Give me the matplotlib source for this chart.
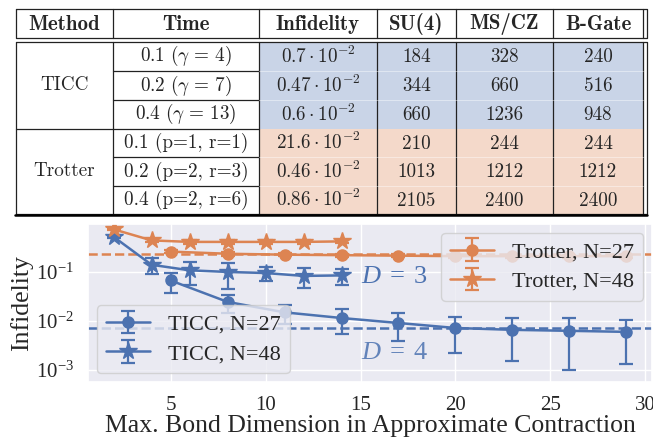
import matplotlib
matplotlib.use("Agg")
import matplotlib.pyplot as plt
import seaborn as sns

# ---- table data ----
headers = ["Method", "Time", "Infidelity", "SU(4)", "MS/CZ", "B-Gate"]
methods = ["TICC", "Trotter"]
times = [r"$0.1\ (\gamma\,=\,4)$", r"$0.2\ (\gamma\,=\,7)$", r"$0.4\ (\gamma\,=\,13)$",
         "0.1 (p=1, r=1)", "0.2 (p=2, r=3)", "0.4 (p=2, r=6)"]
infid = ["0.7", "0.47", "0.6", "21.6", "0.46", "0.86"]
su4 = [184, 344, 660, 210, 1013, 2105]
mscz = [328, 660, 1236, 244, 1212, 2400]
bgate = [240, 516, 948, 244, 1212, 2400]

# ---- plot data ----
x_ticc27 = [5, 8, 11, 14, 17, 20, 23, 26, 29]
y_ticc27 = [0.067, 0.0245, 0.015, 0.0115, 0.0091, 0.0072, 0.0066, 0.0063, 0.0060]
e_ticc27 = [0.03, 0.01, 0.0065, 0.006, 0.0052, 0.005, 0.0051, 0.0053, 0.0047]

x_ticc48 = [2, 4, 6, 8, 10, 12, 14]
y_ticc48 = [0.52, 0.14, 0.108, 0.10, 0.095, 0.083, 0.085]
e_ticc48 = [0.03, 0.05, 0.055, 0.055, 0.03, 0.035, 0.032]

x_trot27 = [5, 8, 11, 14, 17, 20, 23, 26, 29]
y_trot27 = [0.26, 0.235, 0.225, 0.22, 0.215, 0.21, 0.21, 0.21, 0.21]
e_trot27 = [0.02, 0.02, 0.015, 0.015, 0.015, 0.015, 0.015, 0.015, 0.015]

x_trot48 = [2, 4, 6, 8, 10, 12, 14]
y_trot48 = [0.74, 0.44, 0.41, 0.41, 0.41, 0.41, 0.42]
e_trot48 = [0.03, 0.03, 0.03, 0.03, 0.03, 0.03, 0.03]

d3_level = 0.0073
trot_level = 0.23

blue = "#4C72B0"
orange = "#DD8452"

sns.set_theme(style="darkgrid")
plt.rcParams["font.family"] = ["Liberation Serif", "DejaVu Serif"]
plt.rcParams["mathtext.fontset"] = "custom"
plt.rcParams["mathtext.rm"] = "Liberation Serif"
plt.rcParams["mathtext.it"] = "Liberation Serif:italic"

fig = plt.figure(figsize=(6.53, 4.43), dpi=100)
fig.patch.set_facecolor("white")

# ---- table (pixel coordinates) ----
tax = fig.add_axes([0, 0, 1, 1])
tax.set_xlim(0, 653)
tax.set_ylim(443, 0)
tax.axis("off")

cx = [16, 113, 259, 377, 456, 553, 643]
hy = [9, 37.5]
ry = [41.5, 71, 100, 128.5, 157, 186, 213.5]
lc = "#222222"
lw = 0.9
fs = 13.8

# cell fills
for i in range(6):
    col = blue if i < 3 else orange
    tax.add_patch(plt.Rectangle((cx[2], ry[i]), cx[6] - cx[2], ry[i + 1] - ry[i],
                                facecolor=col, alpha=0.3, lw=0))
# header box
tax.plot([cx[0], 647, 647, cx[0], cx[0]], [hy[0], hy[0], hy[1], hy[1], hy[0]], color=lc, lw=lw)
for xv in cx[1:]:
    tax.plot([xv, xv], hy, color=lc, lw=lw)
# body box
tax.plot([cx[0], 647, 647, cx[0], cx[0]], [ry[0], ry[0], ry[6], ry[6], ry[0]], color=lc, lw=lw)
for xv in cx[1:]:
    tax.plot([xv, xv], [ry[0], ry[6]], color=lc, lw=lw)
for i in [1, 2, 4, 5]:
    tax.plot([cx[1], cx[2]], [ry[i], ry[i]], color=lc, lw=lw)
    tax.plot([cx[2], cx[6]], [ry[i], ry[i]], color="white", lw=0.6, alpha=0.5)
tax.plot([cx[0], cx[2]], [ry[3], ry[3]], color=lc, lw=lw)
tax.plot([15, 647], [214.5, 214.5], color="black", lw=1.8)

# header text
for j, h in enumerate(headers):
    tax.text((cx[j] + cx[j + 1]) / 2, sum(hy) / 2 + 1, h, family="cmb10",
             fontsize=15, ha="center", va="center")
# method column
for k, m in enumerate(methods):
    tax.text((cx[0] + cx[1]) / 2, (ry[3 * k] + ry[3 * k + 3]) / 2, m, family="cmr10",
             fontsize=fs, ha="center", va="center")
for i in range(6):
    yc = (ry[i] + ry[i + 1]) / 2
    t = times[i]
    if t.startswith("$"):
        tax.text((cx[1] + cx[2]) / 2, yc, t, math_fontfamily="cm", fontsize=fs,
                 ha="center", va="center")
    else:
        tax.text((cx[1] + cx[2]) / 2, yc, t, family="cmr10", fontsize=fs,
                 ha="center", va="center")
    tax.text((cx[2] + cx[3]) / 2, yc, r"$%s \cdot 10^{-2}$" % infid[i], math_fontfamily="cm",
             fontsize=fs, ha="center", va="center")
    for j, vals in enumerate([su4, mscz, bgate]):
        tax.text((cx[3 + j] + cx[4 + j]) / 2, yc + 1, str(vals[i]), family="cmr10",
                 fontsize=fs, ha="center", va="center")

# ---- plot ----
ax = fig.add_axes([88 / 653, 61 / 443, 564 / 653, 158 / 443])
ax.set_yscale("log")

ax.axhline(trot_level, color=orange, ls="--", lw=1.8, zorder=1)
ax.axhline(d3_level, color=blue, ls="--", lw=1.8, zorder=1)

kw = dict(lw=1.8, capsize=5, capthick=1.6, elinewidth=1.6)
h1 = ax.errorbar(x_ticc27, y_ticc27, yerr=e_ticc27, color=blue, marker="o", ms=8,
                 label="TICC, N=27", **kw)
h2 = ax.errorbar(x_ticc48, y_ticc48, yerr=e_ticc48, color=blue, marker="*", ms=13,
                 label="TICC, N=48", **kw)
h3 = ax.errorbar(x_trot27, y_trot27, yerr=e_trot27, color=orange, marker="o", ms=8,
                 label="Trotter, N=27", **kw)
h4 = ax.errorbar(x_trot48, y_trot48, yerr=e_trot48, color=orange, marker="*", ms=13,
                 label="Trotter, N=48", **kw)

ax.text(15, 0.079, r"$D\;=\;3$", color=blue, fontsize=19, va="center", ha="left")
ax.text(15, 0.0022, r"$D\;=\;4$", color=blue, fontsize=19, va="center", ha="left", alpha=0.85)

ax.set_xlim(0.65, 30.35)
ax.set_ylim(5.7e-4, 0.95)
ax.set_xticks([5, 10, 15, 20, 25, 30])
ax.tick_params(labelsize=15, length=0, pad=10)
ax.set_xlabel("Max. Bond Dimension in Approximate Contraction", fontsize=18.5, labelpad=0)
ax.set_ylabel("Infidelity", fontsize=18.5, labelpad=2)

leg1 = ax.legend(handles=[h1, h2], loc="lower left", fontsize=16, borderaxespad=0.4,
                 handlelength=2.0, labelspacing=0.4, edgecolor="0.8")
ax.add_artist(leg1)
ax.legend(handles=[h3, h4], loc="upper right", fontsize=16, borderaxespad=0.4,
          handlelength=2.0, labelspacing=0.4, edgecolor="0.8")

fig.savefig("out.png", dpi=100)
